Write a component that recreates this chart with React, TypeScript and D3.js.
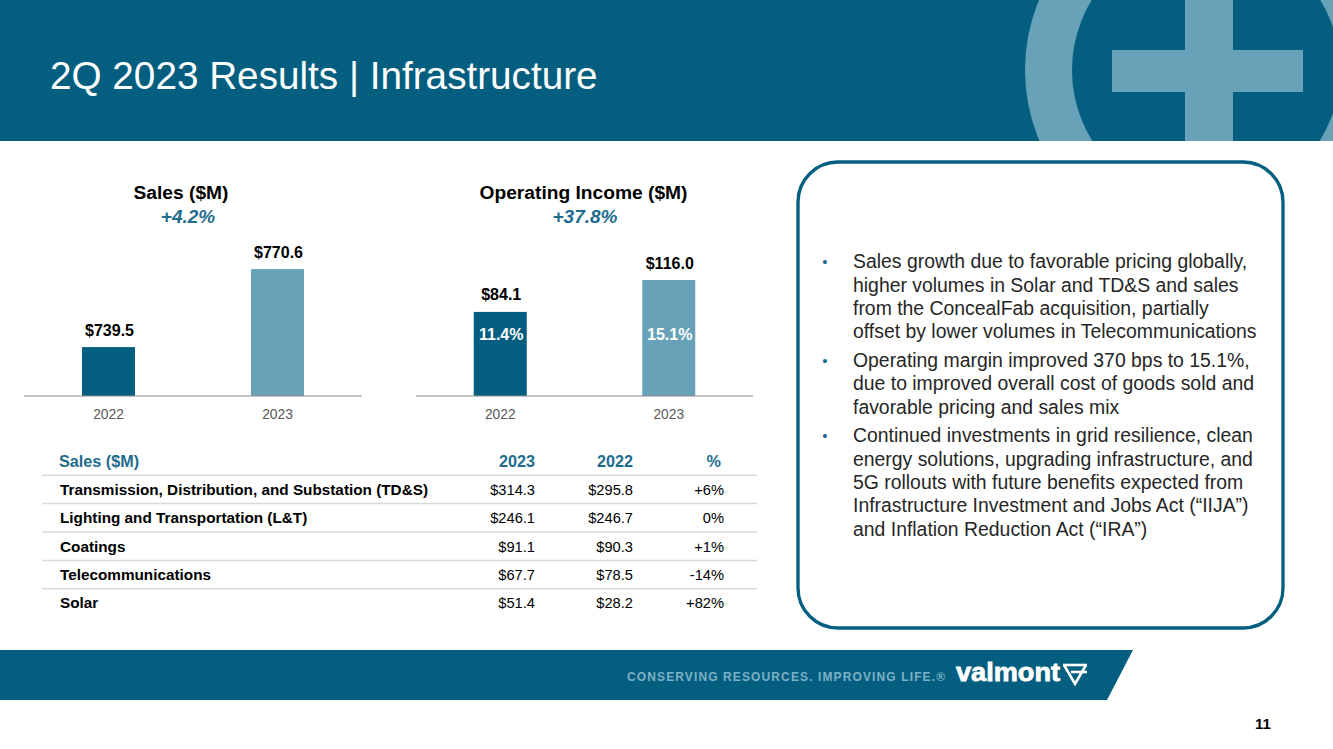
import React from "react";
import * as d3 from "d3";

// ---------- data ----------
const years = ["2022", "2023"];
const salesValues = [739.5, 770.6];
const salesLabels = ["$739.5", "$770.6"];
const opIncomeValues = [84.1, 116.0];
const opIncomeLabels = ["$84.1", "$116.0"];
const opMarginLabels = ["11.4%", "15.1%"];
const salesTitle = "Sales ($M)";
const salesGrowth = "+4.2%";
const opTitle = "Operating Income ($M)";
const opGrowth = "+37.8%";

const tableHeader = ["Sales ($M)", "2023", "2022", "%"];
const segments = [
  "Transmission, Distribution, and Substation (TD&S)",
  "Lighting and Transportation (L&T)",
  "Coatings",
  "Telecommunications",
  "Solar",
];
const segSales2023 = ["$314.3", "$246.1", "$91.1", "$67.7", "$51.4"];
const segSales2022 = ["$295.8", "$246.7", "$90.3", "$78.5", "$28.2"];
const segChange = ["+6%", "0%", "+1%", "-14%", "+82%"];

const bulletLines = [
  [
    "Sales growth due to favorable pricing globally,",
    "higher volumes in Solar and TD&S and sales",
    "from the ConcealFab acquisition, partially",
    "offset by lower volumes in Telecommunications",
  ],
  [
    "Operating margin improved 370 bps to 15.1%,",
    "due to improved overall cost of goods sold and",
    "favorable pricing and sales mix",
  ],
  [
    "Continued investments in grid resilience, clean",
    "energy solutions, upgrading infrastructure, and",
    "5G rollouts with future benefits expected from",
    "Infrastructure Investment and Jobs Act (\u201cIIJA\u201d)",
    "and Inflation Reduction Act (\u201cIRA\u201d)",
  ],
];

const pageTitle = "2Q 2023 Results | Infrastructure";
const tagline = "CONSERVING RESOURCES. IMPROVING LIFE.\u00ae";
const brand = "valmont";
const pageNumber = "11";

// ---------- styles ----------
const W = 1333;
const H = 749;
const DARK = "#045E80";
const LIGHT = "#68A2B9";
const TAG = "#7DB1C6";
const ACCENT = "#1E6C8D";
const FONT = "'Liberation Sans', Arial, Helvetica, sans-serif";

function BarChart({
  values,
  labels,
  inner,
  xRange,
  yScale,
  title,
  titleX,
  growth,
  growthX,
}: any) {
  const x = d3.scaleBand<string>().domain(years).range(xRange);
  const barW = 53;
  const baseY = yScale.range()[0];
  return (
    <g>
      <text x={titleX} y={199} textAnchor="middle" fontSize={19.2} fontWeight="bold" fill="#000">
        {title}
      </text>
      <text x={growthX} y={222.5} textAnchor="middle" fontSize={19} fontWeight="bold" fontStyle="italic" fill={ACCENT}>
        {growth}
      </text>
      {years.map((yr, i) => {
        const cx = (x(yr) as number) + x.bandwidth() / 2;
        const top = yScale(values[i]);
        return (
          <g key={yr}>
            <rect x={cx - barW / 2} y={top} width={barW} height={baseY - top} fill={i === 0 ? DARK : LIGHT} />
            <text x={cx + 1} y={top - 11.5} textAnchor="middle" fontSize={16} fontWeight="bold" fill="#000">
              {labels[i]}
            </text>
            {inner && (
              <text x={cx + 1} y={340} textAnchor="middle" fontSize={16} fontWeight="bold" fill="#fff">
                {inner[i]}
              </text>
            )}
            <text x={cx} y={419} textAnchor="middle" fontSize={13.8} fill="#595959">
              {yr}
            </text>
          </g>
        );
      })}
      <line x1={xRange[0]} x2={xRange[1]} y1={baseY} y2={baseY} stroke="#8C8C8C" strokeWidth={1.2} />
    </g>
  );
}

export default function App() {
  const ySales = d3.scaleLinear().domain([720, 800]).range([396, 396 - 80 * 2.508]);
  const yOp = d3.scaleLinear().domain([0, 200]).range([396, 196]);

  const rowY = d3.scaleLinear().domain([0, 1]).range([461, 461 + 28.4]);

  // bullets layout
  const lineStep = 23.3;
  const paraGap = 5.5;
  let cursor = 268.3;
  const bulletLayout: { lines: string[]; ys: number[] }[] = [];
  bulletLines.forEach((lines, bi) => {
    if (bi > 0) cursor += paraGap;
    const ys = lines.map((_, li) => cursor + li * lineStep);
    cursor += lines.length * lineStep;
    bulletLayout.push({ lines, ys });
  });

  return (
    <svg
      width={W}
      height={H}
      viewBox={`0 0 ${W} ${H}`}
      style={{ position: "absolute", left: 0, top: 0, background: "#fff", fontFamily: FONT }}
    >
      <defs>
        <clipPath id="hdrClip">
          <rect x={0} y={0} width={W} height={141} />
        </clipPath>
      </defs>
      {/* header */}
      <rect x={0} y={0} width={W} height={141} fill={DARK} />
      <g clipPath="url(#hdrClip)">
        <circle cx={1206} cy={70} r={157.5} fill="none" stroke={LIGHT} strokeWidth={47} />
        <rect x={1185} y={0} width={48} height={141} fill={LIGHT} />
        <rect x={1112} y={50} width={191} height={42} fill={LIGHT} />
      </g>
      <text x={50} y={89} fontSize={38.7} fill="#fff">
        {pageTitle}
      </text>

      {/* charts */}
      <BarChart
        values={salesValues}
        labels={salesLabels}
        xRange={[24, 362]}
        yScale={ySales}
        title={salesTitle}
        titleX={181}
        growth={salesGrowth}
        growthX={188}
      />
      <BarChart
        values={opIncomeValues}
        labels={opIncomeLabels}
        inner={opMarginLabels}
        xRange={[416, 753]}
        yScale={yOp}
        title={opTitle}
        titleX={583.5}
        growth={opGrowth}
        growthX={585}
      />

      {/* table */}
      <g fontSize={14.67}>
        <g fontSize={16.2} fontWeight="bold" fill={ACCENT}>
          <text x={59} y={rowY(0) + 5.5}>{tableHeader[0]}</text>
          <text x={535} y={rowY(0) + 5.5} textAnchor="end">{tableHeader[1]}</text>
          <text x={633} y={rowY(0) + 5.5} textAnchor="end">{tableHeader[2]}</text>
          <text x={721} y={rowY(0) + 5.5} textAnchor="end">{tableHeader[3]}</text>
        </g>
        {segments.map((s, i) => {
          const yy = rowY(i + 1) + 5.3;
          const ly = rowY(i + 0.5);
          return (
            <g key={s}>
              <line x1={42} x2={757} y1={ly} y2={ly} stroke="#D9D9D9" strokeWidth={1.5} />
              <text x={60} y={yy} fontSize={15.3} fontWeight="bold" fill="#000">
                {s}
              </text>
              <text x={535} y={yy} textAnchor="end" fill="#000">
                {segSales2023[i]}
              </text>
              <text x={633} y={yy} textAnchor="end" fill="#000">
                {segSales2022[i]}
              </text>
              <text x={724} y={yy} textAnchor="end" fill="#000">
                {segChange[i]}
              </text>
            </g>
          );
        })}
      </g>

      {/* commentary box */}
      <rect x={798} y={162} width={485} height={466} rx={40} ry={40} fill="#fff" stroke={DARK} strokeWidth={3.3} />
      <g fontSize={19.4}>
        {bulletLayout.map((b, bi) => (
          <g key={bi}>
            <text x={825} y={b.ys[0] - 1} textAnchor="middle" fontSize={15} fill={ACCENT}>
              {"\u2022"}
            </text>
            {b.lines.map((ln, li) => (
              <text key={li} x={853} y={b.ys[li]} fill="#262626">
                {ln}
              </text>
            ))}
          </g>
        ))}
      </g>

      {/* footer */}
      <polygon points="0,650 1133,650 1107,700 0,700" fill={DARK} />
      <text x={627} y={681} fontSize={12} fontWeight="bold" fill={TAG} textLength={318} lengthAdjust="spacing">
        {tagline}
      </text>
      <text x={956} y={681} fontSize={25} fontWeight="bold" fill="#fff" stroke="#fff" strokeWidth={0.8} textLength={104} lengthAdjust="spacingAndGlyphs">
        {brand}
      </text>
      <g fill="none" stroke="#fff" strokeWidth={2.6}>
        <path d="M1063,665 L1087,665" />
        <path d="M1071,672 L1087,672" />
        <path d="M1064,665 L1075,684 L1086,665" />
      </g>
      <text x={1263} y={729} textAnchor="middle" fontSize={15} fontWeight="bold" fill="#000">
        {pageNumber}
      </text>
    </svg>
  );
}
